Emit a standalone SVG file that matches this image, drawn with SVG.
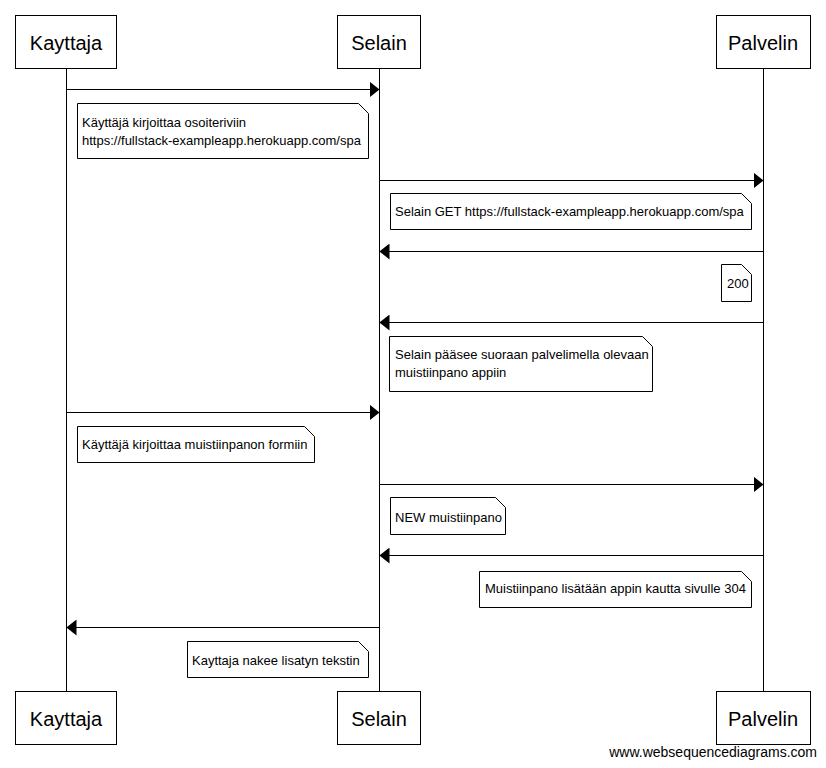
<svg xmlns="http://www.w3.org/2000/svg" width="826" height="768" viewBox="0 0 826 768">
<defs>
<style>
.actor{fill:#fff;stroke:#000;stroke-width:1}
.alabel{font-family:"Liberation Sans",Arial,sans-serif;font-size:20px;fill:#000;text-anchor:middle}
.life{stroke:#000;stroke-width:1;fill:none}
.msg{stroke:#000;stroke-width:1;fill:none;marker-end:url(#ah)}
.note{fill:#fff;stroke:#000;stroke-width:1}
.ntext{font-family:"Liberation Sans",Arial,sans-serif;font-size:13px;fill:#000}
.wm{font-family:"Liberation Sans",Arial,sans-serif;font-size:14px;fill:#000;text-anchor:end}
</style>
<marker id="ah" markerWidth="10" markerHeight="16" refX="10" refY="8" orient="auto" markerUnits="userSpaceOnUse">
<path d="M0,0 L10,8 L0,16 z" fill="#000"/>
</marker>
</defs>
<rect width="826" height="768" fill="#fff"/>
<g id="lifelines">
<line class="life" x1="66.5" y1="68" x2="66.5" y2="691"/>
<line class="life" x1="379.5" y1="68" x2="379.5" y2="691"/>
<line class="life" x1="763.5" y1="68" x2="763.5" y2="691"/>
</g>
<g id="actor-kayttaja">
<rect class="actor" x="15.5" y="15.5" width="101" height="53"/>
<text class="alabel" x="66" y="50">Kayttaja</text>
<rect class="actor" x="15.5" y="691.5" width="101" height="53"/>
<text class="alabel" x="66" y="726">Kayttaja</text>
</g>
<g id="actor-selain">
<rect class="actor" x="337.5" y="15.5" width="83" height="53"/>
<text class="alabel" x="379" y="50">Selain</text>
<rect class="actor" x="337.5" y="691.5" width="83" height="53"/>
<text class="alabel" x="379" y="726">Selain</text>
</g>
<g id="actor-palvelin">
<rect class="actor" x="716.5" y="15.5" width="94" height="53"/>
<text class="alabel" x="763" y="50">Palvelin</text>
<rect class="actor" x="716.5" y="691.5" width="94" height="53"/>
<text class="alabel" x="763" y="726">Palvelin</text>
</g>
<g id="connectors">
<line class="msg" x1="66.5" y1="89.5" x2="379.5" y2="89.5"/>
<line class="msg" x1="379.5" y1="180.5" x2="763.5" y2="180.5"/>
<line class="msg" x1="763.5" y1="251.5" x2="379.5" y2="251.5"/>
<line class="msg" x1="763.5" y1="322.5" x2="379.5" y2="322.5"/>
<line class="msg" x1="66.5" y1="412.5" x2="379.5" y2="412.5"/>
<line class="msg" x1="379.5" y1="484.5" x2="763.5" y2="484.5"/>
<line class="msg" x1="763.5" y1="555.5" x2="379.5" y2="555.5"/>
<line class="msg" x1="379.5" y1="627.5" x2="66.5" y2="627.5"/>
</g>
<g id="note1">
<path class="note" d="M77.5,103.5 H358.5 L368.5,113.5 V158.5 H77.5 Z"/>
<text class="ntext" x="82" y="127">Käyttäjä kirjoittaa osoiteriviin</text>
<text class="ntext" x="82" y="145">https://fullstack-exampleapp.herokuapp.com/spa</text>
</g>
<g id="note2">
<path class="note" d="M390.5,193.5 H741.5 L751.5,203.5 V229.5 H390.5 Z"/>
<text class="ntext" x="395" y="216">Selain GET https://fullstack-exampleapp.herokuapp.com/spa</text>
</g>
<g id="note3">
<path class="note" d="M721.5,264.5 H741.5 L751.5,274.5 V301.5 H721.5 Z"/>
<text class="ntext" x="727" y="288">200</text>
</g>
<g id="note4">
<path class="note" d="M389.5,336.5 H642.5 L652.5,346.5 V391.5 H389.5 Z"/>
<text class="ntext" x="395" y="359">Selain pääsee suoraan palvelimella olevaan</text>
<text class="ntext" x="395" y="377">muistiinpano appiin</text>
</g>
<g id="note5">
<path class="note" d="M77.5,426.5 H304.5 L314.5,436.5 V462.5 H77.5 Z"/>
<text class="ntext" x="82" y="449">Käyttäjä kirjoittaa muistiinpanon formiin</text>
</g>
<g id="note6">
<path class="note" d="M390.5,497.5 H495.5 L505.5,507.5 V534.5 H390.5 Z"/>
<text class="ntext" x="395" y="522">NEW muistiinpano</text>
</g>
<g id="note7">
<path class="note" d="M479.5,571.5 H741.5 L751.5,581.5 V607.5 H479.5 Z"/>
<text class="ntext" x="485" y="593">Muistiinpano lisätään appin kautta sivulle 304</text>
</g>
<g id="note8">
<path class="note" d="M187.5,641.5 H358.5 L368.5,651.5 V677.5 H187.5 Z"/>
<text class="ntext" x="192" y="665">Kayttaja nakee lisatyn tekstin</text>
</g>
<text class="wm" x="817" y="757">www.websequencediagrams.com</text>
</svg>
